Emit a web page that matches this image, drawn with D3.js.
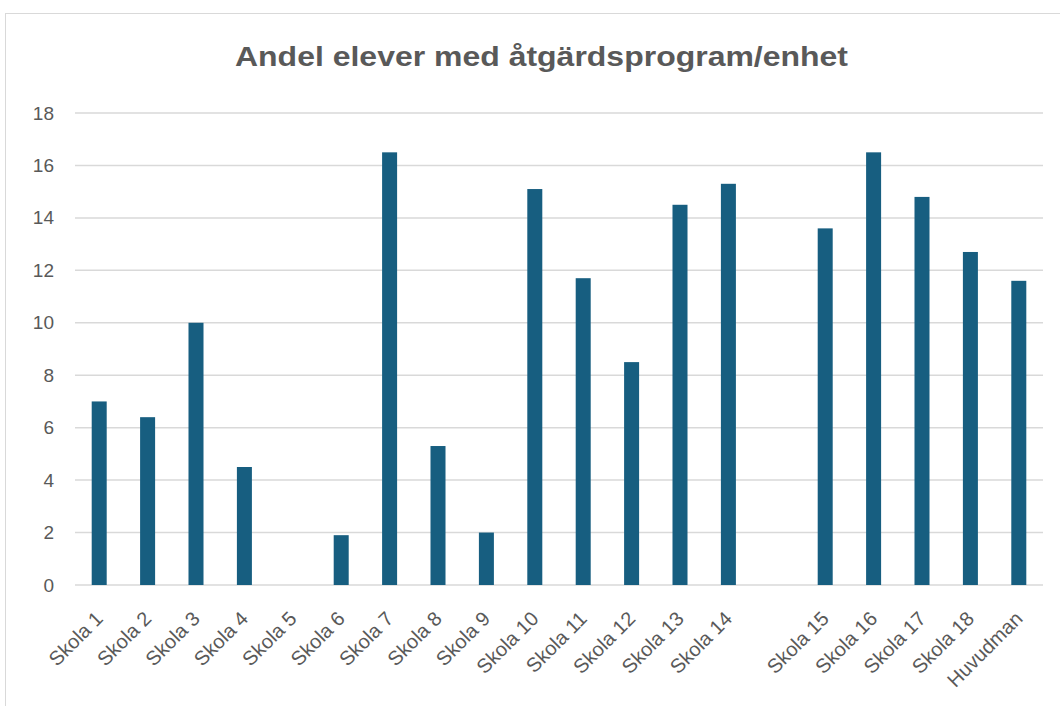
<!DOCTYPE html>
<html><head><meta charset="utf-8">
<script src="https://cdn.jsdelivr.net/npm/d3@7"></script>
<style>body{margin:0;background:#fff;}svg{display:block;}</style>
</head><body>
<svg id="c" width="1060" height="706"></svg>
<script>
const categories = ["Skola 1","Skola 2","Skola 3","Skola 4","Skola 5","Skola 6","Skola 7","Skola 8","Skola 9","Skola 10","Skola 11","Skola 12","Skola 13","Skola 14","","Skola 15","Skola 16","Skola 17","Skola 18","Huvudman"];
const values = [7.0,6.4,10.0,4.5,0,1.9,16.5,5.3,2.0,15.1,11.7,8.5,14.5,15.3,null,13.6,16.5,14.8,12.7,11.6];
const yTicks = [0,2,4,6,8,10,12,14,16,18];
const title = "Andel elever med åtgärdsprogram/enhet";

const svg = d3.select("#c");
// chart frame
svg.append("rect").attr("x",5.5).attr("y",13.5).attr("width",1070).attr("height",720)
  .attr("fill","#fff").attr("stroke","#d9d9d9").attr("stroke-width",1);

const pLeft=75, pRight=1043, pTop=113, pBottom=585;
const keys = categories.map((c,i)=>i);
const x = d3.scaleBand().domain(keys).range([pLeft,pRight]).paddingInner(0.69).paddingOuter(0.345);
const y = d3.scaleLinear().domain([0,18]).range([pBottom,pTop]);

const grid = svg.append("g");
grid.selectAll("line").data(yTicks).join("line")
  .attr("x1",pLeft).attr("x2",pRight)
  .attr("y1",d=>y(d)).attr("y2",d=>y(d))
  .attr("stroke","#d9d9d9").attr("stroke-width",1.5);

const font = "'Liberation Sans',Arial,sans-serif";
const yAxis = svg.append("g").attr("transform",`translate(${pLeft},0)`)
  .call(d3.axisLeft(y).tickValues(yTicks).tickSize(0).tickPadding(21));
yAxis.select(".domain").remove();
yAxis.selectAll("text").attr("fill","#595959").style("font-family",font).style("font-size","19px");

svg.append("g").selectAll("rect").data(values.map((v,i)=>({v,i})).filter(d=>d.v!==null && d.v>0)).join("rect")
  .attr("x",d=>x(d.i)).attr("width",x.bandwidth())
  .attr("y",d=>y(d.v)).attr("height",d=>y(0)-y(d.v))
  .attr("fill","#175e80");

const xAxis = svg.append("g").attr("transform",`translate(0,${pBottom})`)
  .call(d3.axisBottom(x).tickFormat(i=>categories[i]).tickSize(0));
xAxis.select(".domain").remove();
xAxis.selectAll("text")
  .attr("fill","#595959").style("font-family",font).style("font-size","20px")
  .attr("text-anchor","end").attr("dy",null).attr("y",0)
  .attr("transform","translate(5,35) rotate(-45)");

svg.append("text").attr("x",541.5).attr("y",66).attr("text-anchor","middle")
  .attr("fill","#595959").style("font-family",font)
  .style("font-weight","bold").style("font-size","28px")
  .attr("textLength",613).attr("lengthAdjust","spacingAndGlyphs").text(title);
</script>
</body></html>
